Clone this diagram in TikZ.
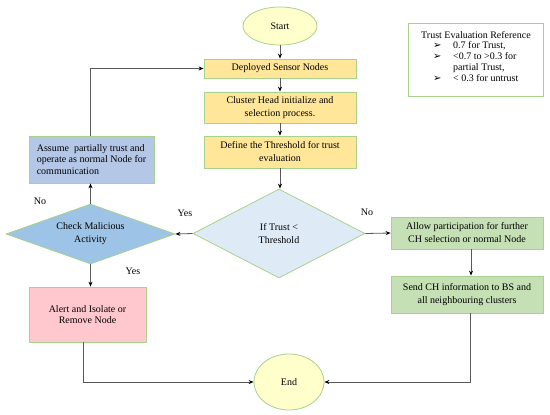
\documentclass[tikz,border=0pt]{standalone}
\usepackage{fontspec}
\setmainfont{Liberation Serif}
\newfontfamily\dejavu{DejaVu Sans}
\usetikzlibrary{shapes.geometric,arrows.meta}
\definecolor{bordergreen}{HTML}{A9D18E}
\definecolor{ellfill}{HTML}{FFFFCC}
\definecolor{boxyellow}{HTML}{FFE699}
\definecolor{boxblue}{HTML}{B4C7E7}
\definecolor{diablue}{HTML}{9DC3E6}
\definecolor{dialight}{HTML}{DEEBF7}
\definecolor{boxgreen}{HTML}{C5E0B4}
\definecolor{boxpink}{HTML}{FFC7CE}
\definecolor{linegray}{HTML}{595959}
\begin{document}
\begin{tikzpicture}[x=1pt,y=-1pt,
  base/.style={draw=bordergreen,line width=0.8pt,inner sep=0pt,font=\fontsize{10}{13}\selectfont,align=center},
  term/.style={base,ellipse,fill=ellfill},
  procbox/.style={base,rectangle,fill=boxyellow,minimum width=152pt},
  greenbox/.style={base,rectangle,fill=boxgreen,minimum width=152pt},
  decision/.style={base,diamond},
  conn/.style={draw=linegray,line width=0.8pt,-{Stealth[length=5pt,width=4pt,color=black]}},
  lbl/.style={font=\fontsize{10}{12}\selectfont,inner sep=0pt},
  reftext/.style={font=\fontsize{10}{11}\selectfont,inner sep=0pt,anchor=base west},
  bullet/.style={reftext,font=\dejavu\fontsize{10}{11}\selectfont}
]
\useasboundingbox (0,0) rectangle (550,415);

\node[term,minimum width=74pt,minimum height=38pt] (start) at (280,26) {Start};
\node[procbox,minimum height=19pt] (deploy) at (280,68.5) {Deployed Sensor Nodes};
\node[procbox,minimum height=31pt] (ch) at (280,107.5) {Cluster Head initialize and\\selection process.};
\node[procbox,minimum height=32pt] (def) at (280,152) {Define the Threshold for trust\\evaluation};
\node[decision,fill=dialight,aspect=1.93,minimum width=172pt,minimum height=89pt] (ift) at (279,233.5) {If Trust <\\Threshold};
\node[decision,fill=diablue,aspect=2.8,minimum width=169pt,minimum height=60pt] (chk) at (90.5,234) {Check Malicious\\Activity};
\node[base,rectangle,fill=boxblue,minimum width=125pt,minimum height=47pt,align=left,font=\fontsize{10}{11.5}\selectfont] (assume) at (91.5,159.5) {Assume~ partially trust and\\operate as normal Node for\\communication};
\node[base,rectangle,fill=boxpink,minimum width=117pt,minimum height=55pt,font=\fontsize{10}{11.5}\selectfont] (alert) at (87.5,314.5) {Alert and Isolate or\\Remove Node};
\node[greenbox,minimum height=32pt] (allow) at (467,233) {Allow participation for further\\CH selection or normal Node};
\node[greenbox,minimum height=37pt] (send) at (467,294.5) {Send CH information to BS and\\all neighbouring clusters};
\node[term,minimum width=70pt,minimum height=56pt] (end) at (289,382) {End};

% reference box
\node[draw=bordergreen,line width=0.8pt,minimum width=135pt,minimum height=73pt,inner sep=0pt] (refbox) at (475.5,59.5) {};
\node[reftext] (r0) at (421,38) {Trust Evaluation Reference};
\node[bullet] (b1) at (433,48.5) {➢};
\node[reftext] (r1) at (453,48.5) {0.7 for Trust,};
\node[bullet] (b2) at (433,59.5) {➢};
\node[reftext] (r2) at (453,59.5) {<0.7 to >0.3 for};
\node[reftext] (r3) at (453,70.5) {partial Trust,};
\node[bullet] (b3) at (433,81.5) {➢};
\node[reftext] (r4) at (453,81.5) {< 0.3 for untrust};

% labels
\node[lbl] (lno1) at (40,201) {No};
\node[lbl] (lyes1) at (185,213) {Yes};
\node[lbl] (lno2) at (367,212) {No};
\node[lbl] (lyes2) at (133,271) {Yes};

% connectors
\draw[conn] (start) -- (deploy);
\draw[conn] (deploy) -- (ch);
\draw[conn] (ch) -- (def);
\draw[conn] (def.south) -- (def.south |- ift.north);
\draw[conn] (ift.west) -- (chk.east);
\draw[conn] (ift.east) -- (allow.west);
\draw[conn] (chk.north) -- (chk.north |- assume.south);
\draw[conn] (chk.south) -- (chk.south |- alert.north);
\coordinate (asTop) at (chk.north |- assume.north);
\draw[conn] (asTop) |- (deploy.west);
\coordinate (alTop) at (471,0);
\draw[conn] (alTop |- allow.south) -- (alTop |- send.north);
\coordinate (alBot) at (83,0);
\draw[conn] (alBot |- alert.south) |- (end.west);
\coordinate (seBot) at (470,0);
\draw[conn] (seBot |- send.south) |- (end.east);
\end{tikzpicture}
\end{document}
